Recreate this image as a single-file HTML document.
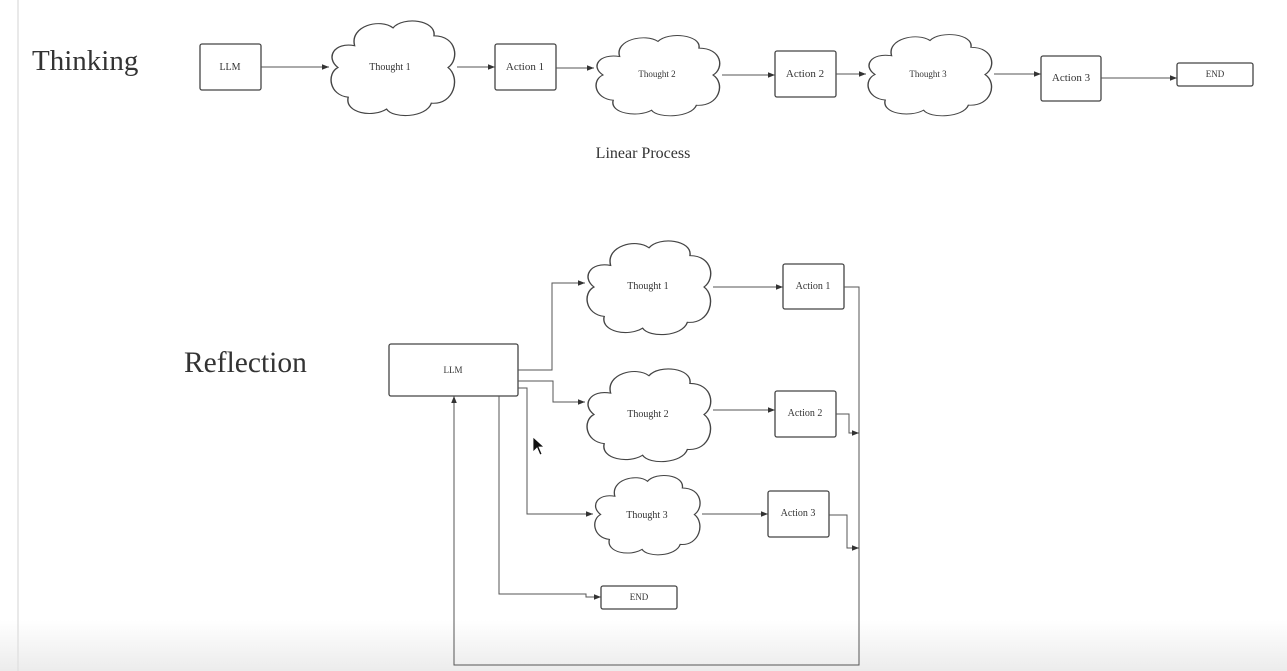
<!DOCTYPE html>
<html><head><meta charset="utf-8"><style>
html,body{margin:0;padding:0;background:#fff;}
body{width:1287px;height:671px;overflow:hidden;position:relative;}
.fade{position:absolute;left:0;top:620px;width:1287px;height:51px;background:linear-gradient(#fff,#ececec);}
</style></head><body>
<div class="fade"></div>
<svg width="1287" height="671" style="position:absolute;left:0;top:0" font-family="Liberation Serif, serif">
<defs>
<marker id="a" viewBox="0 0 10 10" refX="10" refY="5" markerWidth="7" markerHeight="7" orient="auto"><path d="M0,1 L10,5 L0,9 Z" fill="#333"/></marker>
<path id="cloud" d="M20,28 C16,8 40,0 50,10 C58,-2 84,2 82,18 C100,18 102,42 93,50 C103,60 98,88 80,86 C76,101 50,102 45,92 C34,101 12,96 15,80 C0,78 -2,56 7,50 C-3,40 4,24 20,28 Z"/>
</defs>
<line x1="18" y1="0" x2="18" y2="671" stroke="#e2e2e2" stroke-width="1.5"/>
<g fill="#fff" stroke="#444" stroke-width="1.3">
<rect x="200" y="44" width="61" height="46" rx="2"/>
<rect x="495" y="44" width="61" height="46" rx="2"/>
<rect x="775" y="51" width="61" height="46" rx="2"/>
<rect x="1041" y="56" width="60" height="45" rx="2"/>
<rect x="1177" y="63" width="76" height="23" rx="2"/>
<rect x="389" y="344" width="129" height="52" rx="2"/>
<rect x="783" y="264" width="61" height="45" rx="2"/>
<rect x="775" y="391" width="61" height="46" rx="2"/>
<rect x="768" y="491" width="61" height="46" rx="2"/>
<rect x="601" y="586" width="76" height="23" rx="2"/>
</g>
<g fill="#fff" stroke="#444">
<use href="#cloud" transform="translate(329,18) scale(1.28,0.99)" stroke-width="1.1"/>
<use href="#cloud" transform="translate(594,33) scale(1.28,0.84)" stroke-width="1.1"/>
<use href="#cloud" transform="translate(866,32) scale(1.28,0.85)" stroke-width="1.1"/>
<use href="#cloud" transform="translate(585,238) scale(1.28,0.98)" stroke-width="1.1"/>
<use href="#cloud" transform="translate(585,366) scale(1.28,0.97)" stroke-width="1.1"/>
<use href="#cloud" transform="translate(593,473) scale(1.09,0.83)" stroke-width="1.2"/>
</g>
<g fill="none" stroke="#555" stroke-width="1" marker-end="url(#a)">
<path d="M261,67 H329"/>
<path d="M457,67 H495"/>
<path d="M556,68 H594"/>
<path d="M722,75 H775"/>
<path d="M836,74 H866"/>
<path d="M994,74 H1041"/>
<path d="M1101,78 H1177"/>
<path d="M518,370 H552 V283 H585"/>
<path d="M518,381 H553 V402 H585"/>
<path d="M518,388 H527 V514 H593"/>
<path d="M499,396 V594 H586 V597 H601"/>
<path d="M713,287 H783"/>
<path d="M713,410 H775"/>
<path d="M702,514 H768"/>
<path d="M844,287 H859 V665 H454 V396"/>
<path d="M836,414 H849 V433 H859"/>
<path d="M829,515 H847 V548 H859"/>
</g>
<g fill="#333" text-anchor="middle" font-size="10">
<text x="230" y="70">LLM</text>
<text x="390" y="70">Thought 1</text>
<text x="525" y="70" font-size="11">Action 1</text>
<text x="657" y="77" font-size="9">Thought 2</text>
<text x="805" y="77" font-size="11">Action 2</text>
<text x="928" y="77" font-size="9">Thought 3</text>
<text x="1071" y="81" font-size="11">Action 3</text>
<text x="1215" y="77" font-size="9">END</text>
<text x="453" y="373" font-size="9">LLM</text>
<text x="648" y="289">Thought 1</text>
<text x="813" y="289">Action 1</text>
<text x="648" y="417">Thought 2</text>
<text x="805" y="416">Action 2</text>
<text x="647" y="518">Thought 3</text>
<text x="798" y="516">Action 3</text>
<text x="639" y="600" font-size="9">END</text>
</g>
<text x="32" y="70" font-size="29" fill="#333">Thinking</text>
<text x="643" y="158" font-size="16" fill="#333" text-anchor="middle">Linear Process</text>
<text x="184" y="372" font-size="29.5" fill="#333">Reflection</text>
<path d="M533,437 L533,452 L537,448 L540,455 L542,454 L539,447 L544,447 Z" fill="#111" stroke="#fff" stroke-width="0.8"/>
</svg>
</body></html>
